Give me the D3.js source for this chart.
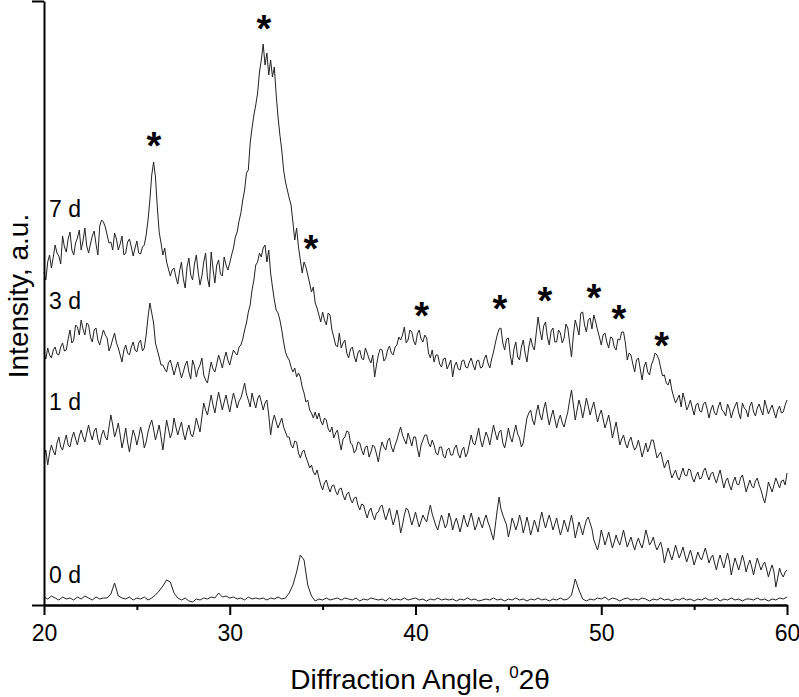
<!DOCTYPE html>
<html>
<head>
<meta charset="utf-8">
<script src="https://cdn.jsdelivr.net/npm/d3@7"></script>
<style>
body { margin: 0; background: #fff; }
text { font-family: Arial, "Liberation Sans", sans-serif; fill: #000; }
</style>
</head>
<body>
<div id="chart"></div>
<script>
// 2-theta range of every pattern; readings are evenly spaced over it
var angleStart = 20, angleEnd = 60;

// intensities (a.u.), 0.1 deg steps, each row = 1 deg
var trace7d = [
  333,325,343,350,337,348,360,352,349,341,
  369,358,353,366,373,355,350,362,367,375,
  355,364,377,359,352,361,369,374,361,350,
  379,385,383,378,370,362,363,355,372,366,
  355,361,369,350,352,363,366,358,349,357,
  364,352,351,358,360,370,385,405,430,443,
  428,398,373,362,350,357,343,336,329,335,
  337,328,321,334,343,326,317,338,347,330,
  325,341,350,333,320,329,343,352,327,318,
  353,336,322,340,345,331,329,348,340,335,
  342,350,357,368,373,384,392,405,415,432,
  435,462,477,490,500,512,533,545,561,540,
  552,530,545,528,538,510,488,470,455,435,
  423,415,407,400,383,365,377,358,345,332,
  343,338,330,322,313,318,302,297,290,283,
  293,285,280,292,290,275,268,260,258,272,
  257,262,265,252,247,256,258,249,243,252,
  255,247,245,257,252,246,242,250,228,240,
  250,256,255,244,247,255,259,252,250,258,
  260,268,265,270,278,262,265,275,273,264,
  260,271,275,266,263,270,267,252,247,255,
  243,250,250,241,238,246,247,236,240,245,
  228,239,243,236,235,244,245,238,237,243,
  247,240,235,244,245,237,238,246,250,242,
  237,246,253,262,270,276,277,262,255,266,
  267,250,240,256,263,248,245,258,265,252,
  243,258,267,259,255,272,288,275,265,279,
  283,268,260,274,277,263,263,275,272,262,
  267,281,277,262,248,270,285,278,270,292,
  293,280,273,285,287,276,290,283,275,268,
  260,270,272,263,257,268,267,258,255,266,
  265,273,273,262,245,252,250,241,233,245,
  247,236,225,238,243,233,230,240,245,252,
  250,246,237,229,230,222,220,226,215,208,
  202,206,210,198,212,205,195,199,205,197,
  190,200,202,194,193,201,203,196,187,195,
  200,192,190,198,203,195,193,189,201,196,
  187,194,199,203,192,186,202,197,195,188,
  199,203,193,189,197,201,195,190,205,198,
  191,196,200,193,187,195,199,192,193,200,
  205
];

var trace3d = [
  252,246,257,250,247,255,258,251,250,258,
  262,254,255,266,275,262,265,280,278,270,
  285,276,270,282,280,268,263,275,277,265,
  260,268,275,270,267,254,259,266,272,262,
  257,250,243,255,260,252,250,258,263,255,
  253,262,265,254,257,270,288,302,292,282,
  262,255,248,240,240,236,233,242,245,238,
  230,237,243,235,227,233,240,244,233,226,
  245,239,228,236,240,247,230,225,222,233,
  243,236,233,241,250,244,237,246,253,245,
  240,248,255,252,250,258,260,266,275,282,
  293,300,315,325,340,343,352,348,357,360,
  343,355,332,318,305,295,292,285,275,263,
  253,248,245,238,233,237,228,232,228,218,
  212,203,205,195,192,187,193,186,192,184,
  180,187,185,176,173,178,167,172,175,164,
  155,166,168,174,173,162,160,152,155,163,
  162,155,150,158,159,148,153,160,158,151,
  143,155,163,158,155,164,167,158,153,160,
  165,172,178,170,165,161,172,166,159,168,
  168,157,148,160,165,170,170,162,158,165,
  160,152,150,158,158,149,147,155,157,150,
  150,157,160,151,147,155,158,148,152,161,
  170,162,160,168,177,165,158,166,173,168,
  160,170,180,172,165,173,175,162,157,166,
  177,168,163,172,180,171,167,158,162,175,
  187,192,195,185,180,192,200,190,185,196,
  203,190,180,188,195,186,177,185,190,182,
  178,186,193,205,215,200,185,195,205,198,
  187,196,207,199,190,197,203,193,183,190,
  195,186,177,183,190,180,167,175,183,172,
  160,166,170,162,157,164,168,160,155,158,
  165,157,148,155,162,153,158,165,165,156,
  147,150,153,145,137,142,145,135,127,131,
  135,128,125,131,137,130,129,136,135,127,
  123,129,133,126,127,134,137,130,125,131,
  133,127,122,129,135,126,117,124,127,120,
  115,123,128,121,120,127,130,122,113,119,
  125,119,117,124,127,120,115,108,102,111,
  123,118,113,120,127,122,117,124,125,120,
  132
];

var trace1d = [
  148,155,140,152,160,154,150,162,168,158,
  155,163,170,160,158,167,173,166,160,169,
  175,168,163,172,180,171,165,174,177,166,
  160,170,175,168,165,178,190,180,168,174,
  182,170,157,166,177,163,153,165,175,169,
  160,168,178,170,157,163,173,180,185,176,
  165,172,180,168,155,170,185,176,167,173,
  187,178,170,177,183,172,165,174,180,171,
  168,176,187,180,173,188,202,195,190,200,
  210,200,192,203,213,204,195,203,210,201,
  193,203,212,205,197,204,207,214,222,211,
  205,198,212,204,197,206,210,203,195,202,
  205,190,170,183,190,183,177,182,187,178,
  173,168,168,160,157,164,163,152,147,153,
  155,148,143,137,140,133,130,135,127,120,
  115,122,125,118,113,119,120,114,110,116,
  117,110,105,111,113,106,102,107,108,100,
  95,101,100,93,87,94,97,90,85,92,
  93,98,100,92,85,91,97,88,80,87,
  95,86,72,80,90,97,95,88,80,86,
  93,85,78,84,90,86,83,92,100,91,
  85,79,75,83,90,84,77,81,92,86,
  75,82,87,80,73,81,90,83,78,85,
  92,84,75,80,88,82,77,85,90,83,
  78,71,65,80,95,108,96,90,85,80,
  68,76,87,82,75,81,90,83,72,79,
  88,80,70,77,85,79,73,85,93,84,
  77,84,90,83,75,81,87,78,70,76,
  85,79,73,82,90,80,67,75,83,77,
  70,78,85,88,82,76,65,60,55,63,
  75,68,60,66,73,65,57,63,70,64,
  60,67,75,66,58,63,68,61,55,62,
  67,61,57,65,75,68,60,63,68,60,
  55,59,63,55,42,50,57,51,45,52,
  60,53,47,52,58,50,43,49,55,48,
  40,46,53,48,45,51,57,50,42,47,
  50,42,35,44,50,43,37,45,52,44,
  30,39,47,41,35,42,50,43,33,40,
  45,38,30,39,47,41,35,40,43,36,
  28,35,40,33,18,27,37,31,28,33,
  35
];

// 0 d pattern, 0.2 deg steps, each row = 2 deg
var trace0d = [
  8,6,9,7,5,8,6,7,5,8,
  6,9,7,5,8,6,7,7,11,22,
  9,7,6,8,5,7,6,8,5,7,
  10,14,19,25,23,12,7,5,7,4,
  3,6,5,7,6,8,7,12,8,9,
  7,8,6,7,5,8,6,7,6,7,
  5,7,6,8,6,7,12,20,33,50,
  45,20,9,4,6,5,7,5,6,7,
  5,7,6,5,7,4,6,5,7,6,
  5,6,4,7,5,6,5,7,5,6,
  7,5,6,4,6,5,7,5,6,5,
  6,4,6,5,7,5,6,4,5,6,
  5,7,5,6,4,6,5,7,5,6,
  4,6,5,7,5,6,4,6,5,7,
  5,6,10,26,15,6,4,6,5,7,
  6,8,5,7,6,4,6,7,5,6,
  5,7,6,4,6,5,7,5,6,4,
  6,5,7,5,6,4,6,5,7,5,
  5,7,4,6,5,7,5,6,4,6,
  6,5,7,5,6,4,6,5,7,6,
  8
];

var traceNames = ["7 d", "3 d", "1 d", "0 d"];
var traceLabelValue = [388, 296, 195, 22];

// peak markers on the 7 d pattern
var starAngle = [25.92, 31.84, 34.37, 40.33, 44.54, 46.96, 49.6, 50.95, 53.25];
var starValue = [468, 585, 365, 298, 305, 313, 316, 295, 268];

var majorTicks = [20, 30, 40, 50, 60];
var minorTicks = [25, 35, 45, 55];

var width = 799, height = 697;

var svg = d3.select("#chart").append("svg")
    .attr("width", width)
    .attr("height", height);

var x = d3.scaleLinear().domain([angleStart, angleEnd]).range([44, 787]);
var y = d3.scaleLinear().domain([0, 604]).range([605, 1]);

function tracePath(vals) {
  var step = (angleEnd - angleStart) / (vals.length - 1);
  return d3.line()
    .x(function(d, i) { return x(angleStart + i * step); })
    .y(function(d) { return y(d); })(vals);
}

var traces = [trace7d, trace3d, trace1d, trace0d];

svg.append("g").selectAll("path")
    .data(traces)
    .enter().append("path")
    .attr("d", tracePath)
    .attr("fill", "none")
    .attr("stroke", "#222")
    .attr("stroke-width", 1);

// trace labels
svg.append("g").selectAll("text")
    .data(traceNames)
    .enter().append("text")
    .attr("x", 49)
    .attr("y", function(d, i) { return y(traceLabelValue[i]); })
    .style("font-size", "23px")
    .text(function(d) { return d; });

// asterisks
svg.append("g").selectAll("text")
    .data(starAngle)
    .enter().append("text")
    .attr("x", function(d) { return x(d); })
    .attr("y", function(d, i) { return y(starValue[i]) + 22; })
    .attr("text-anchor", "middle")
    .style("font-size", "38px")
    .style("font-weight", "bold")
    .text("*");

// axes
var xAxis = d3.axisBottom(x)
    .tickValues(majorTicks)
    .tickSize(10)
    .tickSizeOuter(0)
    .tickPadding(10);

var xMinor = d3.axisBottom(x)
    .tickValues(minorTicks)
    .tickSize(5)
    .tickSizeOuter(0)
    .tickFormat("");

var yAxis = d3.axisLeft(y)
    .tickValues([0, 604])
    .tickSize(12)
    .tickSizeOuter(0)
    .tickFormat("");

var gx = svg.append("g").attr("transform", "translate(0,605)").call(xAxis);
var gxm = svg.append("g").attr("transform", "translate(0,605)").call(xMinor);
var gy = svg.append("g").attr("transform", "translate(44,0)").call(yAxis);

[gx, gxm, gy].forEach(function(g) {
  g.selectAll("path, line").attr("stroke", "#000").attr("stroke-width", 2);
});
gx.selectAll("text")
  .style("font-size", "23px")
  .style("font-family", "Arial, 'Liberation Sans', sans-serif")
  .attr("fill", "#000");

// axis titles
svg.append("text")
    .attr("transform", "translate(28,296) rotate(-90)")
    .attr("text-anchor", "middle")
    .style("font-size", "28px")
    .text("Intensity, a.u.");

var xt = svg.append("text")
    .attr("x", 420)
    .attr("y", 689)
    .attr("text-anchor", "middle")
    .style("font-size", "28px");
xt.append("tspan").text("Diffraction Angle, ");
xt.append("tspan").attr("dy", -11).style("font-size", "17px").text("0");
xt.append("tspan").attr("dy", 11).text("2\u03b8");
</script>
</body>
</html>
